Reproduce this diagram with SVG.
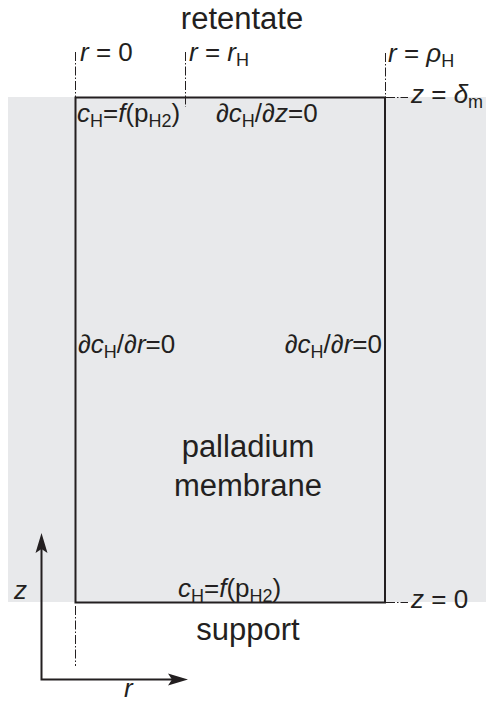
<svg xmlns="http://www.w3.org/2000/svg" width="486" height="704" viewBox="0 0 486 704">
<defs>
<style>
text{font-family:"Liberation Sans",Arial,sans-serif;fill:#231f20}
.big{font-size:31px}
.sm{font-size:26px}
.i{font-style:italic}
.sub{font-size:18px;font-style:normal}
.dd{fill:none;stroke:#231f20;stroke-width:1;stroke-dasharray:9 2 1.5 2}
.ax{fill:none;stroke:#231f20;stroke-width:2}
</style>
</defs>
<rect x="8" y="97" width="478" height="505" fill="#e8e9eb"/>
<g id="membrane">
<rect x="75.5" y="97.5" width="309.5" height="505" fill="none" stroke="#231f20" stroke-width="2"/>
<text class="big" x="248" y="457" text-anchor="middle">palladium</text>
<text class="big" x="248" y="496" text-anchor="middle">membrane</text>
</g>
<g id="connectors">
<line class="dd" x1="75.5" y1="52" x2="75.5" y2="97"/>
<line class="dd" x1="185.5" y1="52" x2="185.5" y2="107"/>
<line class="dd" x1="385.5" y1="53" x2="385.5" y2="97"/>
<line class="dd" x1="386" y1="97.5" x2="408" y2="97.5"/>
<line class="dd" x1="386" y1="602.5" x2="408" y2="602.5"/>
<line class="dd" x1="75.5" y1="606" x2="75.5" y2="666"/>
<polyline class="ax" points="41.5,548 41.5,679.5 174,679.5"/>
<path d="M41.5,533 L47.5,553 L41.5,549 L35.5,553 Z" fill="#231f20"/>
<path d="M188,679.5 L168,673.5 L172,679.5 L168,685.5 Z" fill="#231f20"/>
</g>
<g id="labels">
<text class="big" x="242" y="29" text-anchor="middle">retentate</text>
<text class="sm" x="80" y="61"><tspan class="i">r</tspan> = 0</text>
<text class="sm" x="189" y="61"><tspan class="i">r</tspan> = <tspan class="i">r</tspan><tspan class="sub" dy="5">H</tspan></text>
<text class="sm" x="388" y="62"><tspan class="i">r</tspan> = <tspan class="i">ρ</tspan><tspan class="sub" dy="5">H</tspan></text>
<text class="sm" x="411" y="103"><tspan class="i">z</tspan> = <tspan class="i">δ</tspan><tspan class="sub" dy="5">m</tspan></text>
<text class="sm" x="411" y="608"><tspan class="i">z</tspan> = 0</text>
<text class="sm" x="77" y="122"><tspan class="i">c</tspan><tspan class="sub" dy="5">H</tspan><tspan dy="-5">=</tspan><tspan class="i">f</tspan>(p<tspan class="sub" dy="5">H2</tspan><tspan dy="-5">)</tspan></text>
<text class="sm" x="216" y="122"><tspan class="i">∂c</tspan><tspan class="sub" dy="5">H</tspan><tspan dy="-5">/</tspan><tspan class="i">∂z</tspan>=0</text>
<text class="sm" x="78" y="353"><tspan class="i">∂c</tspan><tspan class="sub" dy="5">H</tspan><tspan dy="-5">/</tspan><tspan class="i">∂r</tspan>=0</text>
<text class="sm" x="382" y="353" text-anchor="end"><tspan class="i">∂c</tspan><tspan class="sub" dy="5">H</tspan><tspan dy="-5">/</tspan><tspan class="i">∂r</tspan>=0</text>
<text class="sm" x="178" y="597"><tspan class="i">c</tspan><tspan class="sub" dy="5">H</tspan><tspan dy="-5">=</tspan><tspan class="i">f</tspan>(p<tspan class="sub" dy="5">H2</tspan><tspan dy="-5">)</tspan></text>
<text class="big" x="248" y="640" text-anchor="middle">support</text>
<text class="sm i" x="14" y="599">z</text>
<text class="sm i" x="124" y="697">r</text>
</g>
</svg>
